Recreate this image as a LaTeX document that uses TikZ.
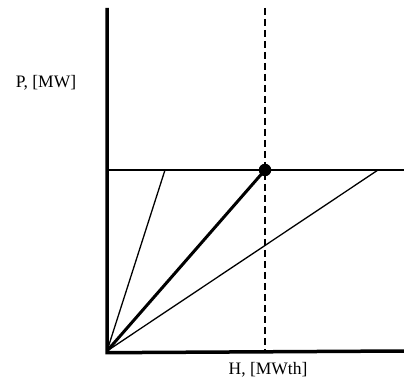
\documentclass[tikz,border=0pt]{standalone}
\usepackage{fontspec}
\setmainfont{Liberation Serif}
\begin{document}
\begin{tikzpicture}[
    x=1pt, y=-1pt,
    axis_line/.style={line width=3.5pt},
    ratio_line/.style={line width=1.3pt},
    main_line/.style={line width=3pt},
    label_format/.style={font=\fontsize{17.5}{20}\selectfont, inner sep=0pt},
    ]
    \useasboundingbox (0,0) rectangle (404,379);

    % --- Named points ---
    \coordinate (origin) at (107,351);
    \coordinate (ytop) at (107,8);
    \coordinate (xend) at (404,351);
    \coordinate (pleft) at (107,170);
    \coordinate (pright) at (404,170);
    \coordinate (lowratio) at (165,170);
    \coordinate (highratio) at (378,170);
    \coordinate (htop) at (265,8);
    \coordinate (hbottom) at (265,351);

    % --- Power limit and heat demand ---
    \draw[ratio_line] (pleft) -- (pright);
    \draw[line width=1.4pt, dash pattern=on 7pt off 4pt] (htop) -- (hbottom);

    % --- Ratio lines from the origin ---
    \draw[ratio_line] (origin) -- (lowratio);
    \draw[ratio_line] (origin) -- (highratio);
    \node[circle, fill=black, minimum size=12.5pt, inner sep=0pt] (point) at (265,170) {};
    \draw[main_line] (origin) -- (point.center);

    % --- Axes ---
    \draw[axis_line] (ytop) -- (107,352.7) -- (xend);

    % --- Axis labels ---
    \node[label_format] (plabel) at (46,83) {P, [MW]};
    \node[label_format] (hlabel) at (268,369.5) {H, [MWth]};

  \end{tikzpicture}
\end{document}
